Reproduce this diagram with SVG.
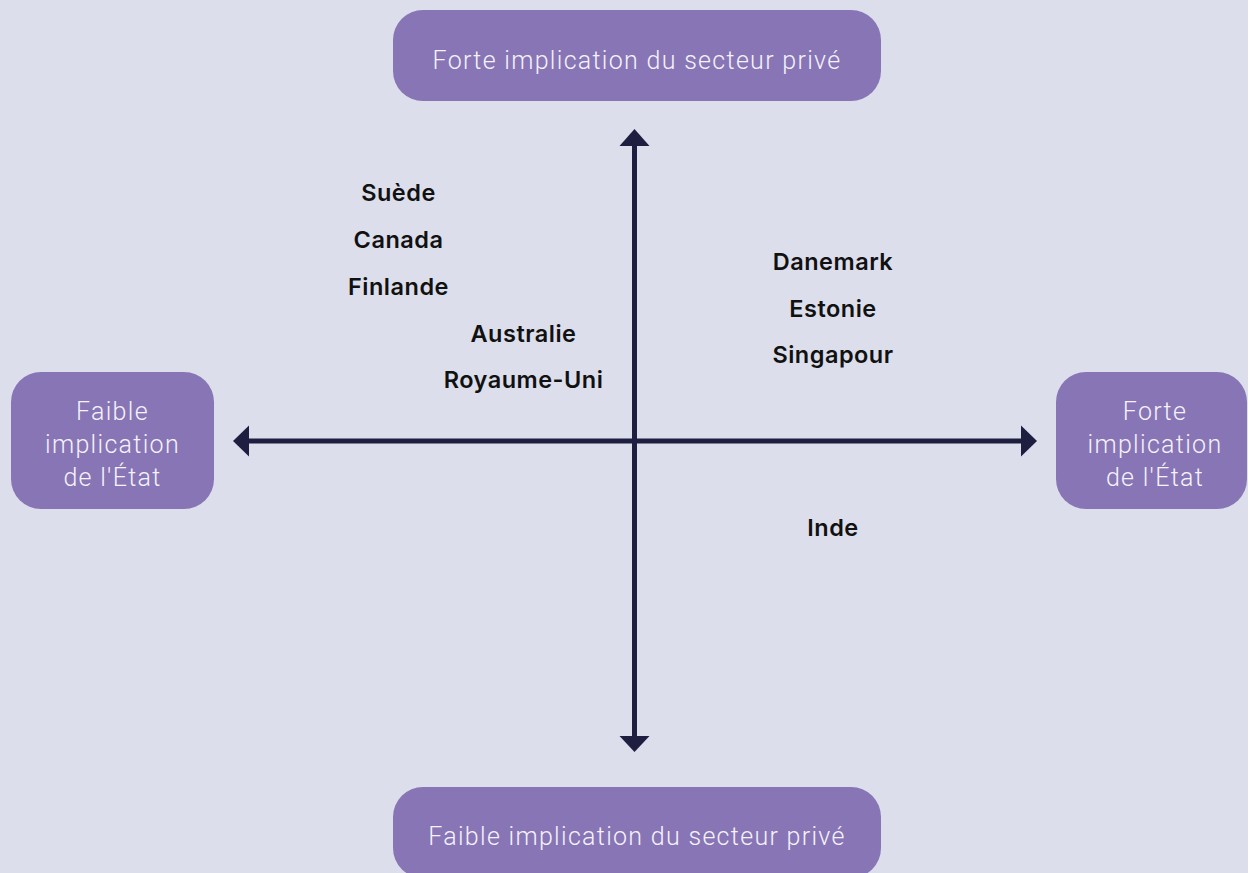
<svg xmlns="http://www.w3.org/2000/svg" width="1248" height="873" viewBox="0 0 1248 873">
<defs>
<style>
.box{fill:#8875b5}
.bt{font-family:Roboto,"Liberation Sans",sans-serif;font-weight:300;font-size:25px;fill:#f4f2fa;text-anchor:middle;letter-spacing:1.3px}
.ct{font-family:Inter,"Liberation Sans",sans-serif;font-weight:600;font-size:23.5px;fill:#111111;text-anchor:middle;letter-spacing:0.5px}
.ax{stroke:#1e1f40;stroke-width:5;fill:none}
.ah{fill:#1e1f40}
</style>
</defs>
<rect width="1248" height="873" fill="#dcdeeb"/>
<g id="connectors">
<line class="ax" x1="634.5" y1="140" x2="634.5" y2="742"/>
<line class="ax" x1="244" y1="441" x2="1026" y2="441"/>
<polygon class="ah" points="634.5,129 619.5,146 649.5,146"/>
<polygon class="ah" points="634.5,752 619.5,736 649.5,736"/>
<polygon class="ah" points="233,441 249,425.5 249,456.5"/>
<polygon class="ah" points="1037,441 1021,425.5 1021,456.5"/>
</g>
<g id="node-top">
<rect class="box" x="393" y="10" width="488" height="91" rx="30"/>
<text class="bt" x="637" y="69">Forte implication du secteur privé</text>
</g>
<g id="node-bottom">
<rect class="box" x="393" y="787" width="488" height="91" rx="30"/>
<text class="bt" x="637" y="845">Faible implication du secteur privé</text>
</g>
<g id="node-left">
<rect class="box" x="11" y="372" width="203" height="137" rx="30"/>
<text class="bt" x="112.5" y="420">Faible</text>
<text class="bt" x="112.5" y="453">implication</text>
<text class="bt" x="112.5" y="486">de l'État</text>
</g>
<g id="node-right">
<rect class="box" x="1056" y="372" width="191" height="137" rx="30"/>
<text class="bt" x="1155" y="420">Forte</text>
<text class="bt" x="1155" y="453">implication</text>
<text class="bt" x="1155" y="486">de l'État</text>
</g>
<g id="countries">
<text class="ct" x="398.5" y="201">Suède</text>
<text class="ct" x="398.5" y="248">Canada</text>
<text class="ct" x="398.5" y="295">Finlande</text>
<text class="ct" x="523.5" y="342">Australie</text>
<text class="ct" x="523.5" y="388">Royaume-Uni</text>
<text class="ct" x="833" y="270">Danemark</text>
<text class="ct" x="833" y="317">Estonie</text>
<text class="ct" x="833" y="363">Singapour</text>
<text class="ct" x="833" y="536">Inde</text>
</g>
</svg>
